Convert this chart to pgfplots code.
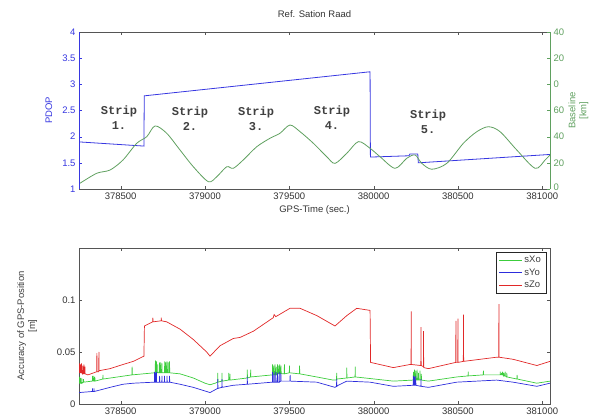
\documentclass[border=0pt]{standalone}
\usepackage{fontspec}
\setmainfont{Liberation Sans}
\newfontfamily\stripfont{Liberation Mono}
\usepackage{pgfplots}
\pgfplotsset{compat=1.18}

\definecolor{pdopblue}{RGB}{55,55,225}
\definecolor{basegreen}{RGB}{95,160,95}
\definecolor{sxgreen}{RGB}{60,205,60}
\definecolor{syblue}{RGB}{45,45,220}
\definecolor{szred}{RGB}{225,40,40}
\definecolor{axgray}{RGB}{85,85,85}

\pgfplotsset{
  mlab/.style={
    scale only axis,
    xmin=378253, xmax=381046,
    tick align=inside,
    major tick length=3pt,
    axis line style={axgray},
    tick style={axgray},
    ticklabel style={font=\fontsize{9.5}{10}\selectfont, text=black!80},
    label style={font=\fontsize{9.5}{11}\selectfont},
    xtick={378500,379000,...,381000},
    xticklabels={378500,379000,379500,380000,380500,381000},
    scaled ticks=false,
  },
}

\begin{document}
\begin{tikzpicture}
\useasboundingbox (0,0) rectangle (594pt,420pt);

% ---- top: PDOP and baseline length ----
\begin{axis}[mlab,
  at={(79pt,231pt)}, anchor=south west,
  width=471pt, height=157pt,
  ymin=1, ymax=4,
  axis y line*=left,
  y axis line style={pdopblue},
  ytick={1,1.5,2,2.5,3,3.5,4},
  yticklabels={1,1.5,2,2.5,3,3.5,4},
  ytick style={pdopblue},
  yticklabel style={text=pdopblue},
  ylabel={PDOP},
  ylabel style={at={(axis description cs:-0.064,0.5)}, anchor=center, text=pdopblue},
  xlabel={GPS-Time (sec.)},
  xlabel style={at={(axis description cs:0.5,-0.134)}, anchor=center, text=black!80},
  title={Ref. Sation Raad},
  title style={at={(axis description cs:0.5,1.076)}, anchor=center,
    font=\fontsize{9.5}{10}\selectfont, text=black!80},
]
\addplot[pdopblue, line width=0.8pt] coordinates {
  (378253,1.90) (378638,1.82) (378640,2.78) (379979,3.24) (379981,1.61)
  (380210,1.635) (380215,1.67) (380262,1.67) (380265,1.50) (381046,1.66)
};
\begin{scope}[font=\stripfont\bfseries\fontsize{12}{15}\selectfont, text=black!75]
\node[align=center] at (axis cs:378490,2.36) {Strip\\1.};
\node[align=center] at (axis cs:378911,2.34) {Strip\\2.};
\node[align=center] at (axis cs:379303,2.34) {Strip\\3.};
\node[align=center] at (axis cs:379753,2.36) {Strip\\4.};
\node[align=center] at (axis cs:380323,2.28) {Strip\\5.};
\end{scope}
\end{axis}

\begin{axis}[mlab,
  at={(79pt,231pt)}, anchor=south west,
  width=471pt, height=157pt,
  ymin=0, ymax=120,
  axis y line*=right,
  axis x line=none,
  y axis line style={basegreen},
  ytick={0,20,40,60,80,100,120},
  yticklabels={\raisebox{4pt}{0},20,40,60,0,20,40},
  ytick style={basegreen},
  yticklabel style={text=basegreen},
  ylabel={Baseline\\{[km]}},
  ylabel style={at={(axis description cs:1.0605,0.5)}, anchor=center,
    align=center, rotate=0, text=basegreen},
]
\addplot[basegreen, line width=0.8pt, smooth] coordinates {
  (378259,4.4) (378358,12.0) (378437,14.5) (378514,22.2) (378595,34.9)
  (378655,40.0) (378704,48.2) (378773,42.6) (378852,29.8) (378931,17.0)
  (379020,5.6) (379070,9.4) (379129,17.0) (379168,15.8) (379227,22.2)
  (379307,32.3) (379386,38.8) (379445,42.6) (379504,48.9) (379564,43.8)
  (379643,34.9) (379722,24.7) (379771,19.6) (379841,27.3) (379910,36.2)
  (379979,31.1) (380038,24.7) (380127,15.8) (380197,23.5) (380246,26.0)
  (380286,19.6) (380345,15.1) (380434,19.6) (380532,34.9) (380612,43.8)
  (380681,47.6) (380750,43.8) (380849,29.8) (380958,15.8) (381017,22.2)
  (381046,26.0)
};
\end{axis}

% ---- bottom: accuracy of the GPS position ----
\begin{axis}[mlab,
  at={(79pt,16pt)}, anchor=south west,
  width=471pt, height=156pt,
  ymin=0, ymax=0.15,
  ytick={0,0.05,0.1},
  yticklabels={0,0.05,0.1},
  ylabel={Accuracy of GPS-Position\\{[m]}},
  ylabel style={at={(axis description cs:-0.110,0.5)}, anchor=center,
    align=center, text=black!75},
  legend style={at={(rel axis cs:0.9915,0.974)}, anchor=north east,
    draw=black!85, font=\fontsize{9.5}{11}\selectfont, text=black!75,
    inner xsep=3pt, inner ysep=2pt, row sep=0.5pt},
  legend image code/.code={\draw[#1] (0cm,0cm) -- (0.8cm,0cm);},
  legend cell align=left,
]
\addplot[sxgreen, line width=0.7pt] coordinates {
  (378253,0.020) (378255,0.020) (378256,0.026) (378257,0.020) (378261,0.020)
  (378262,0.025) (378263,0.020) (378269,0.020) (378270,0.025) (378271,0.020)
  (378279,0.021) (378280,0.024) (378281,0.021) (378330,0.022) (378332,0.022)
  (378333,0.027) (378334,0.022) (378339,0.022) (378340,0.027) (378341,0.022)
  (378346,0.022) (378347,0.026) (378348,0.022) (378394,0.024) (378395,0.028)
  (378396,0.024) (378567,0.028) (378568,0.036) (378569,0.028) (378700,0.030)
  (378705,0.030) (378706,0.042) (378707,0.030) (378711,0.030) (378712,0.041)
  (378713,0.030) (378719,0.030) (378720,0.038) (378721,0.030) (378730,0.030)
  (378731,0.040) (378732,0.030) (378737,0.030) (378738,0.040) (378739,0.030)
  (378744,0.030) (378745,0.039) (378746,0.030) (378760,0.030) (378761,0.041)
  (378762,0.030) (378767,0.030) (378768,0.040) (378769,0.030) (378774,0.030)
  (378775,0.041) (378776,0.030) (378781,0.030) (378782,0.040) (378783,0.030)
  (378789,0.030) (378790,0.041) (378791,0.030) (378852,0.029) (378931,0.025)
  (379000,0.020) (379030,0.0185) (379060,0.020) (379075,0.021) (379076,0.030)
  (379077,0.021) (379100,0.022) (379101,0.030) (379102,0.022) (379140,0.023)
  (379141,0.030) (379142,0.023) (379147,0.023) (379148,0.029) (379149,0.023)
  (379250,0.025) (379251,0.033) (379252,0.025) (379270,0.026) (379271,0.033)
  (379272,0.026) (379400,0.028) (379401,0.038) (379402,0.028) (379407,0.028)
  (379408,0.037) (379409,0.028) (379414,0.028) (379415,0.038) (379416,0.028)
  (379421,0.028) (379422,0.036) (379423,0.028) (379429,0.029) (379430,0.038)
  (379431,0.029) (379436,0.029) (379437,0.037) (379438,0.029) (379443,0.029)
  (379444,0.038) (379445,0.029) (379450,0.029) (379451,0.037) (379452,0.029)
  (379470,0.029) (379471,0.038) (379472,0.029) (379500,0.030) (379501,0.037)
  (379502,0.030) (379560,0.029) (379561,0.037) (379562,0.029) (379663,0.026)
  (379760,0.023) (379780,0.023) (379781,0.030) (379782,0.024) (379840,0.025)
  (379841,0.035) (379842,0.025) (379890,0.026) (379891,0.036) (379892,0.026)
  (379950,0.025) (380117,0.022) (380235,0.023) (380236,0.031) (380237,0.023)
  (380242,0.023) (380243,0.033) (380244,0.023) (380249,0.023) (380250,0.032)
  (380251,0.023) (380257,0.023) (380258,0.033) (380259,0.023) (380265,0.023)
  (380266,0.030) (380267,0.023) (380274,0.023) (380275,0.032) (380276,0.023)
  (380282,0.023) (380283,0.029) (380284,0.023) (380325,0.022) (380493,0.026)
  (380560,0.027) (380561,0.031) (380562,0.027) (380650,0.028) (380651,0.032)
  (380652,0.028) (380750,0.028) (380751,0.031) (380752,0.028) (380757,0.028)
  (380758,0.030) (380759,0.028) (380764,0.028) (380765,0.031) (380766,0.028)
  (380771,0.027) (380772,0.030) (380773,0.027) (380779,0.027) (380780,0.031)
  (380781,0.027) (380789,0.026) (380790,0.030) (380791,0.026) (380850,0.024)
  (380851,0.028) (380852,0.024) (380968,0.020) (381046,0.022)
};
\addlegendentry{sXo}
\addplot[syblue, line width=0.7pt] coordinates {
  (378253,0.011) (378330,0.012) (378332,0.012) (378333,0.015) (378334,0.012)
  (378341,0.012) (378342,0.015) (378343,0.012) (378437,0.016) (378514,0.019)
  (378575,0.020) (378700,0.021) (378701,0.031) (378702,0.021) (378706,0.021)
  (378707,0.030) (378708,0.021) (378711,0.021) (378712,0.031) (378713,0.021)
  (378730,0.021) (378731,0.027) (378732,0.021) (378744,0.021) (378745,0.027)
  (378746,0.021) (378759,0.021) (378760,0.027) (378761,0.021) (378774,0.021)
  (378775,0.027) (378776,0.021) (378789,0.021) (378790,0.027) (378791,0.021)
  (378852,0.019) (378931,0.016) (379030,0.011) (379075,0.015) (379076,0.024)
  (379077,0.015) (379100,0.016) (379101,0.024) (379102,0.016) (379168,0.018)
  (379250,0.019) (379251,0.026) (379252,0.019) (379400,0.021) (379401,0.031)
  (379402,0.021) (379409,0.021) (379410,0.030) (379411,0.021) (379419,0.021)
  (379420,0.031) (379421,0.021) (379429,0.021) (379430,0.030) (379431,0.021)
  (379439,0.021) (379440,0.031) (379441,0.021) (379449,0.022) (379450,0.030)
  (379451,0.022) (379504,0.022) (379505,0.028) (379506,0.022) (379663,0.021)
  (379771,0.016) (379780,0.017) (379781,0.024) (379782,0.017) (379790,0.018)
  (379841,0.022) (379979,0.021) (380117,0.017) (380235,0.018) (380236,0.027)
  (380237,0.018) (380242,0.018) (380243,0.026) (380244,0.018) (380249,0.018)
  (380250,0.027) (380251,0.018) (380280,0.017) (380281,0.024) (380282,0.017)
  (380325,0.016) (380493,0.021) (380730,0.023) (380827,0.021) (380968,0.017)
  (381046,0.020)
};
\addlegendentry{sYo}
\addplot[szred, line width=0.7pt] coordinates {
  (378253,0.032) (378255,0.030) (378256,0.039) (378257,0.030) (378261,0.030)
  (378262,0.038) (378263,0.030) (378267,0.030) (378268,0.039) (378269,0.030)
  (378274,0.029) (378275,0.037) (378276,0.029) (378281,0.029) (378282,0.038)
  (378283,0.029) (378287,0.029) (378288,0.036) (378289,0.029) (378306,0.028)
  (378358,0.031) (378359,0.049) (378360,0.031) (378370,0.031) (378371,0.050)
  (378372,0.032) (378437,0.034) (378514,0.038) (378575,0.041) (378638,0.046)
  (378641,0.075) (378690,0.079) (378691,0.083) (378692,0.079) (378740,0.080)
  (378741,0.083) (378742,0.080) (378773,0.079) (378852,0.072) (378931,0.062)
  (379010,0.050) (379030,0.046) (379089,0.056) (379168,0.063) (379208,0.064)
  (379287,0.070) (379405,0.083) (379410,0.086) (379420,0.084) (379504,0.092)
  (379564,0.092) (379663,0.085) (379771,0.075) (379841,0.085) (379900,0.092)
  (379979,0.090) (379982,0.040) (380117,0.035) (380216,0.038) (380222,0.038)
  (380223,0.089) (380224,0.038) (380280,0.037) (380281,0.074) (380282,0.037)
  (380295,0.036) (380296,0.070) (380297,0.035) (380325,0.034) (380487,0.040)
  (380488,0.080) (380489,0.040) (380499,0.040) (380500,0.082) (380501,0.040)
  (380532,0.041) (380533,0.086) (380534,0.041) (380730,0.045) (380742,0.045)
  (380743,0.096) (380744,0.045) (380827,0.043) (380968,0.037) (381046,0.041)
};
\addlegendentry{sZo}
\end{axis}
\end{tikzpicture}
\end{document}
